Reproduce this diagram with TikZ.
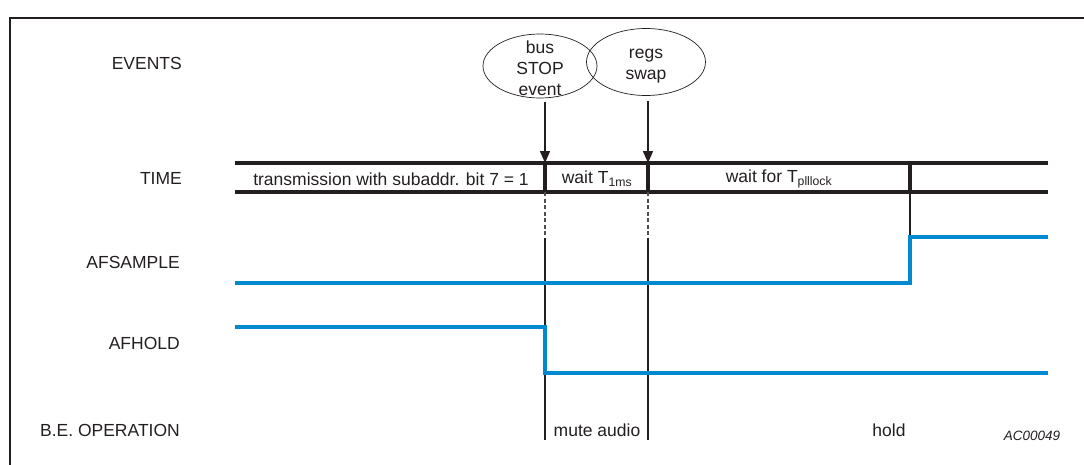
\documentclass[tikz,border=0pt]{standalone}
\usepackage{fontspec}
\setmainfont{Liberation Sans}
\usetikzlibrary{shapes.geometric,arrows.meta,positioning}
\definecolor{inkblack}{RGB}{35,31,32}
\definecolor{sigblue}{RGB}{0,137,207}

\begin{document}
\begin{tikzpicture}[x=1pt, y=-1pt,
        every node/.style={inner sep=0pt, text=inkblack, font=\fontsize{17.5}{21}\selectfont},
        rowlabel/.style={anchor=east},
        eventshape/.style={draw=inkblack, ellipse, line width=0.7pt, minimum width=#1},
        buswire/.style={draw=inkblack, line width=3.2pt},
        sepline/.style={draw=inkblack, line width=1.6pt},
        dashline/.style={draw=inkblack!80, line width=1.6pt, dash pattern=on 4pt off 2.5pt},
        signal/.style={draw=sigblue, line width=3.2pt},
        evarrow/.style={draw=inkblack, line width=1.5pt, -{Triangle[length=12pt,width=10pt]}}]
        \useasboundingbox (0,0) rectangle (1084,464);
        % Frame
        \draw[inkblack, line width=2.2pt] (10,470) -- (10,18) -- (1090,18);

        % Row labels
        \node (lblevents) [rowlabel] at (182,63) {EVENTS};
        \node (lbltime) [rowlabel] at (182,178) {TIME};
        \node (lblsample) [rowlabel] at (180,262) {AFSAMPLE};
        \node (lblhold) [rowlabel] at (180,343) {AFHOLD};
        \node (lbloper) [rowlabel] at (180,430) {B.E. OPERATION};

        % Events
        \node (stopevt) [eventshape=114pt, minimum height=64pt] at (540,66) {};
        \node (regsevt) [eventshape=119pt, minimum height=67pt] at (646,62) {};
        \node (stoptext) [align=center] at (540,68) {bus\\STOP\\event};
        \node (regstext) [align=center] at (646,66) {regs\\swap};
        \coordinate (stoptail) at (545,102);
        \coordinate (regstail) at (648,101);

        % Time bus
        \coordinate (busTL) at (235,163);
        \coordinate (busTR) at (1048,163);
        \coordinate (busBL) at (235,192);
        \coordinate (busBR) at (1048,192);
        \coordinate (stopT) at (545,163);
        \coordinate (stopB) at (545,192);
        \coordinate (regsT) at (648,163);
        \coordinate (regsB) at (648,192);
        \coordinate (lockT) at (910,163);
        \coordinate (lockB) at (910,192);
        \draw[buswire] (busTL) -- (busTR);
        \draw[buswire] (busBL) -- (busBR);
        \draw[buswire] (stopT) -- (stopB);
        \draw[buswire] (regsT) -- (regsB);
        \draw[buswire] (lockT) -- (lockB);
        \node (txmit) at (391,179) {transmission with subaddr. bit 7 = 1};
        \node (wait1) at (597,179) {wait T\textsubscript{1ms}};
        \node (waitlock) at (779,179) {wait for T\textsubscript{plllock}};

        % Arrows
        \draw[evarrow] (stoptail) -- (stopT);
        \draw[evarrow] (regstail) -- (regsT);

        % Markers below the bus
        \coordinate (stopD) at (545,238);
        \coordinate (regsD) at (648,238);
        \coordinate (stopE) at (545,440);
        \coordinate (regsE) at (648,440);
        \draw[dashline] (stopB) -- (stopD);
        \draw[dashline] (regsB) -- (regsD);
        \draw[sepline] (stopD) -- (stopE);
        \draw[sepline] (regsD) -- (regsE);

        % AFSAMPLE
        \coordinate (smp0) at (235,283);
        \coordinate (smp1) at (910,283);
        \coordinate (smp2) at (910,237);
        \coordinate (smp3) at (1048,237);
        \draw[sepline] (lockB) -- (smp2);
        \draw[signal] (smp0) -- (smp1) -- (smp2) -- (smp3);

        % AFHOLD
        \coordinate (hld0) at (235,327);
        \coordinate (hld1) at (545,327);
        \coordinate (hld2) at (545,373);
        \coordinate (hld3) at (1048,373);
        \draw[signal] (hld0) -- (hld1) -- (hld2) -- (hld3);

        % B.E. operation
        \node (mute) at (597,430) {mute audio};
        \node (holdop) at (889,430) {hold};
        \node (figid) at (1032,436) {\fontsize{13.5}{16}\selectfont\itshape AC00049};
\end{tikzpicture}
\end{document}
